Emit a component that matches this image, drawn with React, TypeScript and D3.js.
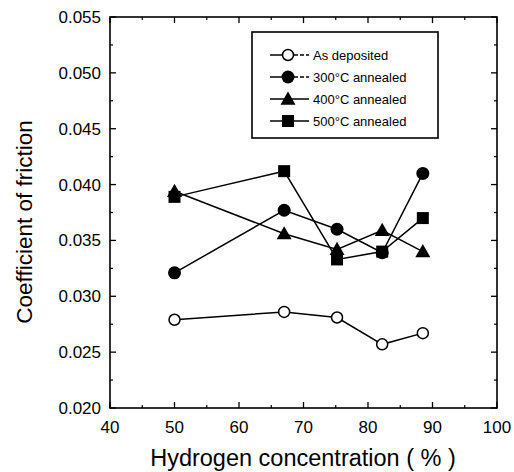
import React from 'react';
import * as d3 from 'd3';

const hydrogen = [50, 67, 75.2, 82.2, 88.5];
const asDeposited = [0.0279, 0.0286, 0.0281, 0.0257, 0.0267];
const annealed300 = [0.0321, 0.0377, 0.036, 0.0339, 0.041];
const annealed400 = [0.0394, 0.0356, 0.0342, 0.0359, 0.034];
const annealed500 = [0.0389, 0.0412, 0.0333, 0.034, 0.037];

const xTicks = [40, 50, 60, 70, 80, 90, 100];
const yTicks = [0.02, 0.025, 0.03, 0.035, 0.04, 0.045, 0.05, 0.055];
const legendLabels = ['As deposited', '300\u00B0C annealed', '400\u00B0C annealed', '500\u00B0C annealed'];

const width = 514;
const height = 472;
const left = 110;
const right = 497;
const top = 17;
const bottom = 408;

const x = d3.scaleLinear().domain([40, 100]).range([left, right]);
const y = d3.scaleLinear().domain([0.02, 0.055]).range([bottom, top]);

const font = 'Liberation Sans, Arial, sans-serif';

const Marker = ({ kind, cx, cy }: { kind: string; cx: number; cy: number }) => {
  if (kind === 'open') return <circle cx={cx} cy={cy} r={5.5} fill="#fff" stroke="#000" strokeWidth={1.5} />;
  if (kind === 'circle') return <circle cx={cx} cy={cy} r={6.5} fill="#000" />;
  if (kind === 'triangle') {
    const s = 7.5;
    return <path d={`M${cx},${cy - s}L${cx + s},${cy + s * 0.75}L${cx - s},${cy + s * 0.75}Z`} fill="#000" />;
  }
  return <rect x={cx - 6} y={cy - 6} width={12} height={12} fill="#000" />;
};

const series = [
  { values: asDeposited, kind: 'open' },
  { values: annealed300, kind: 'circle' },
  { values: annealed400, kind: 'triangle' },
  { values: annealed500, kind: 'square' },
];

export default function App() {
  const line = d3.line<number>()
    .x((d, i) => x(hydrogen[i]))
    .y((d) => y(d));

  const xMinor = d3.range(45, 100, 10);
  const yMinor = d3.range(0.0225, 0.055, 0.005);

  return (
    <svg width={width} height={height} style={{ position: 'absolute', left: 0, top: 0, background: '#fff' }}>
      {/* frame */}
      <rect x={left} y={top} width={right - left} height={bottom - top} fill="none" stroke="#000" strokeWidth={1.6} />

      {/* x ticks */}
      {xTicks.map((t) => (
        <g key={'x' + t}>
          <line x1={x(t)} x2={x(t)} y1={bottom} y2={bottom - 6} stroke="#000" strokeWidth={1.3} />
          <line x1={x(t)} x2={x(t)} y1={top} y2={top + 6} stroke="#000" strokeWidth={1.3} />
          <text x={x(t)} y={433} textAnchor="middle" fontFamily={font} fontSize={17}>{t}</text>
        </g>
      ))}
      {xMinor.map((t) => (
        <g key={'xm' + t}>
          <line x1={x(t)} x2={x(t)} y1={bottom} y2={bottom - 3} stroke="#000" strokeWidth={1.2} />
          <line x1={x(t)} x2={x(t)} y1={top} y2={top + 3} stroke="#000" strokeWidth={1.2} />
        </g>
      ))}

      {/* y ticks */}
      {yTicks.map((t) => (
        <g key={'y' + t}>
          <line x1={left} x2={left + 6} y1={y(t)} y2={y(t)} stroke="#000" strokeWidth={1.3} />
          <line x1={right} x2={right - 6} y1={y(t)} y2={y(t)} stroke="#000" strokeWidth={1.3} />
          <text x={101} y={y(t) + 6} textAnchor="end" fontFamily={font} fontSize={17}>{d3.format('.3f')(t)}</text>
        </g>
      ))}
      {yMinor.map((t) => (
        <g key={'ym' + t}>
          <line x1={left} x2={left + 3} y1={y(t)} y2={y(t)} stroke="#000" strokeWidth={1.2} />
          <line x1={right} x2={right - 3} y1={y(t)} y2={y(t)} stroke="#000" strokeWidth={1.2} />
        </g>
      ))}

      {/* axis titles */}
      <text x={303} y={466} textAnchor="middle" fontFamily={font} fontSize={23.5}>Hydrogen concentration ( % )</text>
      <text transform="translate(32,222) rotate(-90)" textAnchor="middle" fontFamily={font} fontSize={22.5}>Coefficient of friction</text>

      {/* series lines */}
      {series.map((s, k) => (
        <path key={'l' + k} d={line(s.values) || ''} fill="none" stroke="#000" strokeWidth={1.5} />
      ))}
      {series.map((s, k) => (
        <g key={'m' + k}>
          {s.values.map((v, i) => (
            <Marker key={i} kind={s.kind} cx={x(hydrogen[i])} cy={y(v)} />
          ))}
        </g>
      ))}

      {/* legend */}
      <rect x={252} y={32} width={186} height={106} fill="#fff" stroke="#000" strokeWidth={1.6} />
      {legendLabels.map((label, i) => {
        const ly = 55 + i * 22;
        return (
          <g key={'lg' + i}>
            <line x1={270} x2={288} y1={ly} y2={ly} stroke="#000" strokeWidth={1.5} />
            <line x1={288} x2={309} y1={ly} y2={ly} stroke="#000" strokeWidth={1.5} strokeDasharray={i < 2 ? '4,2' : undefined} />
            <Marker kind={series[i].kind} cx={288} cy={ly} />
            <text x={313} y={ly + 4.5} fontFamily={font} fontSize={13}>{label}</text>
          </g>
        );
      })}
    </svg>
  );
}
